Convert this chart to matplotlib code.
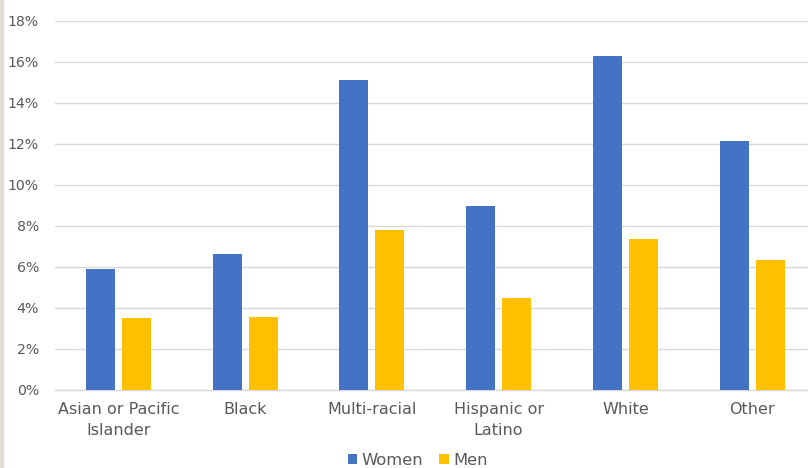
import matplotlib
matplotlib.use("Agg")
import matplotlib.pyplot as plt
from matplotlib.patches import Rectangle
from matplotlib.ticker import FuncFormatter
import numpy as np

categories = ["Asian or Pacific\nIslander", "Black", "Multi-racial",
              "Hispanic or\nLatino", "White", "Other"]
women = [5.9, 6.63, 15.1, 8.96, 16.3, 12.15]
men = [3.53, 3.56, 7.8, 4.5, 7.35, 6.34]
yticks = [0, 2, 4, 6, 8, 10, 12, 14, 16, 18]

WOMEN_COLOR = "#4472C4"
MEN_COLOR = "#FFC000"
TEXT_COLOR = "#595959"
GRID_COLOR = "#D9D9D9"

plt.rcParams["font.family"] = ["DejaVu Sans"]

fig = plt.figure(figsize=(8.08, 4.68), dpi=100)
fig.patch.set_facecolor("white")
ax = fig.add_axes([0.0679, 0.1667, 0.9415, 0.7885])

x = np.arange(len(categories))
bw = 0.229
off = 0.142
ax.bar(x - off, women, bw, color=WOMEN_COLOR, label="Women", zorder=3)
ax.bar(x + off, men, bw, color=MEN_COLOR, label="Men", zorder=3)

ax.set_xlim(-0.5, len(categories) - 0.5)
ax.set_ylim(0, 18)
ax.set_yticks(yticks)
ax.yaxis.set_major_formatter(FuncFormatter(lambda v, p: f"{int(v)}%"))
ax.set_xticks(x)
ax.set_xticklabels(categories)

ax.grid(axis="y", color=GRID_COLOR, linewidth=1.0, zorder=0)
for s in ["top", "right", "left"]:
    ax.spines[s].set_visible(False)
ax.spines["bottom"].set_color(GRID_COLOR)
ax.spines["bottom"].set_linewidth(1.0)

ax.tick_params(axis="y", length=0, pad=11.5, labelsize=10.2, labelcolor=TEXT_COLOR)
ax.tick_params(axis="x", length=0, pad=9, labelsize=11.5, labelcolor=TEXT_COLOR)
for lbl in ax.get_xticklabels():
    lbl.set_linespacing(1.45)

leg = fig.legend(loc="center", bbox_to_anchor=(0.517, 0.017), ncol=2,
                 frameon=False, fontsize=11.8, handlelength=0.6, handleheight=0.6,
                 handletextpad=0.25, columnspacing=1.0)
for t in leg.get_texts():
    t.set_color(TEXT_COLOR)

# thin beige border along the left edge
fig.patches.append(Rectangle((0, 0), 3 / 808, 1, transform=fig.transFigure,
                             color="#E2DFD6", zorder=10))

fig.savefig("out.png", dpi=100)
